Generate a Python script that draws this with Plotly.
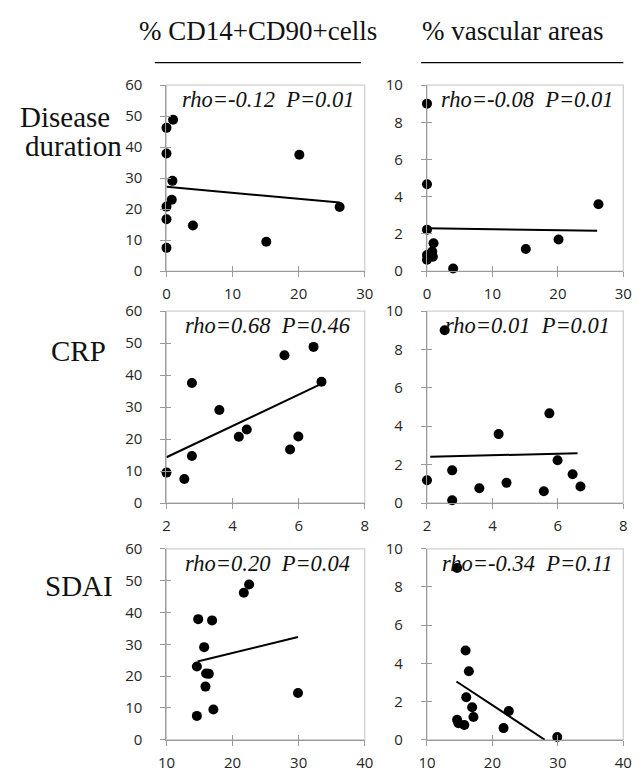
import numpy as np
import plotly.graph_objects as go

# ---- data (one entry per patient) ----
cd14 = [48.8, 46.2, 37.9, 37.5, 29.1, 23.0, 20.8, 20.7, 16.7, 14.7, 9.5, 7.5]
vasc = [1.50, 0.61, 0.86, 1.70, 0.77, 1.05, 2.23, 3.59, 4.67, 0.14, 1.19, 9.00]
duration = [1.0, 0.0, 0.0, 20.1, 0.9, 0.8, 0.0, 26.2, 0.0, 4.0, 15.1, 0.0]
crp = [6.45, 5.57, 6.69, 2.77, 3.60, 4.43, 5.99, 4.19, 5.74, 2.77, 2.00, 2.54]
sdai = [22.5, 21.7, 14.8, 16.9, 15.7, 14.6, 16.0, 16.4, 15.9, 29.9, 17.1, 14.6]

# trend-line end points [row][col] -> (start, end)
trend_x = [[(0.0, 26.2), (0.0, 26.0)],
           [(2.0, 6.7), (2.1, 6.6)],
           [(14.7, 29.9), (14.5, 28.0)]]
trend_y = [[(27.2, 22.1), (2.30, 2.17)],
           [(14.3, 37.3), (2.41, 2.59)],
           [(24.6, 32.3), (3.05, 0.0)]]

col_titles = ["% CD14+CD90+cells", "% vascular areas"]
row_titles = [["Disease", "duration"], ["CRP"], ["SDAI"]]
stats = [["rho=-0.12  P=0.01", "rho=-0.08  P=0.01"],
         ["rho=0.68  P=0.46", "rho=0.01  P=0.01"],
         ["rho=0.20  P=0.04", "rho=-0.34  P=0.11"]]

x_series = [duration, crp, sdai]
y_series = [cd14, vasc]
x_ranges = [[0, 30], [2, 8], [10, 40]]
x_dticks = [10, 2, 10]
y_ranges = [[0, 60], [0, 10]]
y_dticks = [10, 2]

W, H = 644, 777
col_px = [(162, 366), (430, 632)]
row_px = [(76, 267), (308, 505), (552, 748)]

fig = go.Figure()
layout = dict()
AX_COL = "#9a9a9a"
TICKFONT = dict(family="Open Sans", size=15, color="#262626")

n = 0
for r in range(3):
    for c in range(2):
        n += 1
        xa = f"xaxis{n}" if n > 1 else "xaxis"
        ya = f"yaxis{n}" if n > 1 else "yaxis"
        xr = f"x{n}" if n > 1 else "x"
        yr = f"y{n}" if n > 1 else "y"
        xd = [col_px[c][0] / W, col_px[c][1] / W]
        yd = [1 - row_px[r][1] / H, 1 - row_px[r][0] / H]
        layout[xa] = dict(domain=xd, anchor=yr, range=x_ranges[r], dtick=x_dticks[r],
                          tick0=x_ranges[r][0], showgrid=False, zeroline=False,
                          showline=True, linecolor=AX_COL, linewidth=1.3,
                          ticks="outside", ticklen=5, tickcolor=AX_COL, tickwidth=1.3,
                          tickfont=TICKFONT, ticklabelstandoff=4)
        layout[ya] = dict(domain=yd, anchor=xr, range=y_ranges[c], dtick=y_dticks[c],
                          showgrid=False, zeroline=False,
                          showline=True, linecolor=AX_COL, linewidth=1.3,
                          ticks="outside", ticklen=5, tickcolor=AX_COL, tickwidth=1.3,
                          tickfont=TICKFONT, ticklabelstandoff=15)
        # inside half of the cross ticks (overlay axes)
        m = n + 6
        layout[f"xaxis{m}"] = dict(overlaying=xr, anchor=f"y{m}", range=x_ranges[r],
                                   dtick=x_dticks[r], tick0=x_ranges[r][0], showgrid=False,
                                   zeroline=False, showline=False, ticks="inside", ticklen=5,
                                   tickcolor=AX_COL, tickwidth=1.3, showticklabels=False)
        layout[f"yaxis{m}"] = dict(overlaying=yr, anchor=f"x{m}", range=y_ranges[c],
                                   dtick=y_dticks[c], showgrid=False, zeroline=False,
                                   showline=False, ticks="inside", ticklen=5,
                                   tickcolor=AX_COL, tickwidth=1.3, showticklabels=False)
        fig.add_trace(go.Scatter(x=[None], y=[None], xaxis=f"x{m}", yaxis=f"y{m}",
                                 mode="markers", showlegend=False, hoverinfo="skip"))

        xs = np.array(x_series[r], dtype=float)
        ys = np.array(y_series[c], dtype=float)
        fig.add_trace(go.Scatter(x=list(trend_x[r][c]), y=list(trend_y[r][c]),
                                 xaxis=xr, yaxis=yr, mode="lines",
                                 line=dict(color="black", width=2), showlegend=False,
                                 cliponaxis=True, hoverinfo="skip"))
        fig.add_trace(go.Scatter(x=xs, y=ys, xaxis=xr, yaxis=yr, mode="markers",
                                 marker=dict(color="black", size=10), cliponaxis=False,
                                 showlegend=False))

layout_shapes = []
annotations = []
n = 0
for r in range(3):
    for c in range(2):
        n += 1
        xr = f"x{n}" if n > 1 else "x"
        yr = f"y{n}" if n > 1 else "y"
        layout_shapes.append(dict(type="rect", xref=f"{xr} domain", yref=f"{yr} domain",
                                  x0=0, x1=1, y0=0, y1=1, line=dict(color="#d0d0d0", width=1.3),
                                  layer="below"))
        txt = stats[r][c].replace("  ", "\u00a0\u00a0")
        annotations.append(dict(text=f"<i>{txt}</i>", xref=f"{xr} domain", yref=f"{yr} domain",
                                x=0.51, y=1, xanchor="center", yanchor="top", yshift=0,
                                showarrow=False,
                                font=dict(family="Liberation Serif", size=22.5, color="#111")))

# column headers with rules
hdr_x = [256, 518]
rule_x = [(150, 362), (424, 632)]
for c in range(2):
    annotations.append(dict(text=col_titles[c], xref="paper", yref="paper",
                            x=hdr_x[c] / W, y=1 - 21 / H, xanchor="center", yanchor="middle",
                            showarrow=False,
                            font=dict(family="Liberation Serif", size=27, color="#111")))
    layout_shapes.append(dict(type="line", xref="paper", yref="paper",
                              x0=rule_x[c][0] / W, x1=rule_x[c][1] / W,
                              y0=1 - 53 / H, y1=1 - 53 / H, line=dict(color="black", width=1.3)))

# row labels
row_pos = [[(58, 109), (66, 139)], [(72, 349)], [(72, 590)]]
for r in range(3):
    for t, (px, py) in zip(row_titles[r], row_pos[r]):
        annotations.append(dict(text=t, xref="paper", yref="paper", x=px / W, y=1 - py / H,
                                xanchor="center", yanchor="middle", showarrow=False,
                                font=dict(family="Liberation Serif", size=29, color="#111")))

fig.update_layout(width=W, height=H, autosize=False, margin=dict(l=0, r=0, t=0, b=0),
                  paper_bgcolor="white", plot_bgcolor="white", showlegend=False,
                  shapes=layout_shapes, annotations=annotations, **layout)

fig.write_html("out.html", config={"displayModeBar": False},
               post_script="document.body.style.margin='0';document.body.style.overflow='hidden';")
